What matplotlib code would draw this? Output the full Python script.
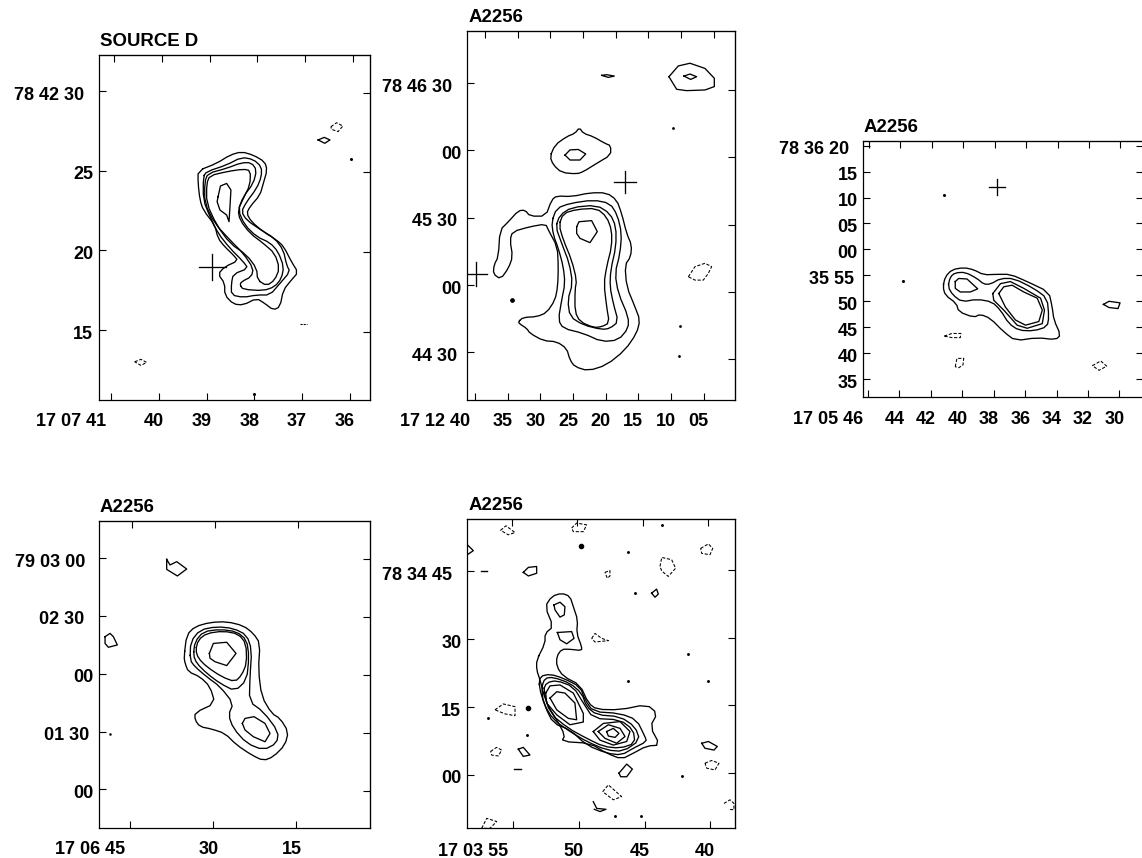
import matplotlib
matplotlib.use('Agg')
import matplotlib.pyplot as plt

plt.rcParams['font.family'] = ['Liberation Sans', 'DejaVu Sans']
plt.rcParams['font.weight'] = 'bold'

# all contours: (RA seconds, Dec arcsec from the reference minute)

# SOURCE D
d_c1 = [(39.18,25.0),(38.79,25.46),(38.51,25.98),(38.27,26.19),(38.02,25.98),(37.78,25.56),(37.73,25.04),(37.81,24.2),(37.88,23.47),(38.09,22.74),(38.16,22.32),(38.06,21.8),(37.81,21.17),(37.53,20.65),(37.38,20.23),(37.22,19.29),(37.08,18.62),(37.22,18.14),(37.39,17.51),(37.46,16.46),(37.6,16.26),(37.78,16.67),(37.95,16.99),(38.23,16.57),(38.44,16.63),(38.62,17.2),(38.62,17.93),(38.76,18.51),(38.62,18.97),(38.34,19.35),(38.44,19.71),(38.62,20.23),(38.76,20.75),(38.83,21.59),(39.07,22.53),(39.14,23.16),(39.18,24.2)]
d_c2 = [(39.07,24.62),(39.0,24.94),(38.58,25.36),(38.27,25.84),(38.02,25.71),(37.85,25.25),(37.85,24.62),(37.95,23.89),(38.16,23.05),(38.27,22.43),(38.16,21.9),(37.88,21.32),(37.57,20.75),(37.39,20.02),(37.32,19.08),(37.25,18.66),(37.46,17.93),(37.67,17.2),(37.95,17.2),(38.23,17.05),(38.48,17.2),(38.48,17.93),(38.44,18.51),(38.13,18.87),(38.23,19.29),(38.51,20.13),(38.76,21.07),(38.93,22.11),(39.07,23.16)]
d_c3 = [(38.3,17.82),(38.23,17.55),(37.81,17.47),(37.57,17.72),(37.43,18.24),(37.38,18.97),(37.5,19.92),(37.67,20.48),(37.95,20.86),(38.2,21.59),(38.34,22.53),(38.23,23.37),(38.02,24.2),(37.95,25.04),(38.06,25.5),(38.27,25.5),(38.58,25.15),(38.97,24.83),(39.04,24.31),(39.04,22.95),(38.83,21.69),(38.51,20.65),(38.23,19.81),(38.02,18.87),(38.06,18.35),(38.27,18.03)]
d_c4 = [(37.93,18.14),(37.74,17.78),(37.57,18.14),(37.47,18.87),(37.57,19.81),(37.81,20.44),(38.09,21.07),(38.3,21.9),(38.34,22.53),(38.23,23.26),(38.09,24.1),(38.08,25.0),(38.23,25.1),(38.58,24.94),(38.93,24.69),(39.0,24.2),(39.0,22.95),(38.79,21.59),(38.51,20.44),(38.16,19.71),(37.95,18.87)]
d_c5 = [(38.76,23.37),(38.71,24.04),(38.58,24.2),(38.49,23.79),(38.51,22.74),(38.53,21.8),(38.58,22.22),(38.72,22.53),(38.78,23.05)]
d_s1 = [(36.66,26.93),(36.53,27.09),(36.41,26.93),(36.52,26.72)]
d_n1 = [(36.39,27.76),(36.27,28.01),(36.14,27.8),(36.24,27.45),(36.38,27.6)]
d_n2 = [(40.51,13.01),(40.38,13.16),(40.26,12.97),(40.38,12.78)]
d_dots = [(35.97,25.75),(38.0,11.0)]
d_cross = [(38.88,18.97)]

# A2256, 17 12 / 78 45
a_c1 = [(33.38,-16.3),(32.61,-14.4),(30.57,-14.1),(29.04,-12.3),(27.76,-6.7),(27.35,-0.7),(27.25,8.2),(27.41,17.1),(28.78,24.5),(29.19,27.2),(31.59,26.0),(34.25,23.8),(34.66,20.1),(34.25,12.6),(34.91,7.4),(36.09,2.7),(37.21,4.9),(37.11,8.9),(36.45,12.6),(36.19,24.5),(34.91,28.2),(33.38,33.1),(32.36,33.4),(31.59,30.7),(29.19,30.7),(28.27,37.9),(27.51,39.7),(25.21,39.4),(22.4,41.1),(19.85,41.1),(18.31,37.9),(17.55,31.9),(16.78,23.0),(16.02,17.8),(16.17,12.6),(17.04,8.9),(16.78,-0.7),(15.51,-9.7),(14.74,-15.6),(15.25,-21.5),(17.04,-29.0),(19.85,-35.6),(22.66,-38.2),(24.7,-36.4),(25.46,-33.4),(25.98,-28.2),(27.51,-25.2),(29.55,-24.8),(31.59,-21.5),(32.1,-19.3),(33.13,-17.4)]
a_c2 = [(28.27,28.2),(27.51,34.2),(25.46,36.4),(21.89,37.9),(19.34,36.4),(18.21,31.2),(17.55,23.0),(17.8,14.1),(18.57,5.2),(18.06,-3.7),(16.53,-14.1),(16.53,-19.3),(18.06,-24.5),(20.61,-25.2),(23.42,-21.5),(26.49,-19.3),(27.25,-15.6),(26.74,-6.7),(26.23,0.7),(26.49,8.2),(27.25,16.3),(28.02,22.3)]
a_c3 = [(27.66,26.0),(27.0,31.2),(25.21,34.6),(21.38,35.6),(19.34,31.9),(18.42,26.0),(18.42,17.1),(19.23,6.7),(19.34,-0.7),(18.83,-8.2),(18.06,-16.3),(19.34,-19.3),(20.61,-19.8),(23.42,-17.8),(25.46,-14.1),(25.82,-6.7),(25.06,0.7),(25.57,9.7),(26.74,18.6)]
a_c4 = [(27.15,26.7),(26.49,31.9),(24.44,33.7),(21.38,34.2),(19.85,30.4),(19.08,24.5),(19.08,17.1),(19.85,8.2),(20.26,0.7),(19.85,-9.7),(19.44,-16.8),(20.61,-18.6),(21.89,-18.9),(23.93,-16.3),(24.7,-11.9),(24.7,-2.2),(24.44,2.2),(25.21,11.1),(26.49,20.1)]
a_c5 = [(24.44,26.0),(24.09,28.2),(22.15,28.7),(21.28,23.8),(22.4,18.9),(23.93,20.8),(24.44,23.0)]
a_top1 = [(28.53,57.2),(27.76,62.4),(25.98,66.1),(24.7,67.6),(24.03,70.1),(23.42,67.6),(21.89,66.1),(20.1,63.1),(19.23,62.1),(19.23,57.9),(21.38,54.2),(23.42,50.5),(24.44,49.5),(26.74,50.1),(28.02,53.5)]
a_top2 = [(26.23,57.9),(25.46,60.2),(24.19,60.4),(23.06,58.4),(23.93,55.7),(25.46,55.7)]
a_tr1 = [(10.3,92.8),(8.87,97.6),(7.08,98.8),(4.78,96.5),(3.35,92.1),(3.35,88.4),(4.78,86.9),(7.59,86.6),(9.12,87.2)]
a_tr2 = [(8.0,93.1),(7.08,94.0),(6.06,92.8),(6.98,91.6)]
a_sm = [(20.61,93.4),(19.85,93.7),(18.67,93.1),(19.59,92.5)]
a_neg = [(7.33,3.7),(6.31,8.2),(4.78,9.7),(3.76,8.2),(4.27,5.2),(5.04,2.2),(6.31,2.2)]
a_dots = [(34.3,-6.7),(9.63,70.1),(8.61,-18.3),(8.71,-31.5)]
a_cross = [(17.04,45.7),(39.92,4.9)]

# A2256, 17 05 / 78 36
b_c1 = [(41.23,-7.2),(41.09,-5.3),(40.66,-3.9),(39.91,-3.5),(39.28,-3.9),(38.64,-4.9),(37.79,-4.8),(36.94,-4.8),(35.87,-6.2),(34.49,-8.2),(34.28,-11.1),(34.17,-13.6),(33.74,-16.5),(34.06,-17.4),(35.23,-17.0),(36.62,-17.6),(37.36,-15.9),(38.21,-13.3),(38.85,-12.5),(39.28,-13.1),(40.23,-12.0),(40.38,-10.4),(41.09,-8.8)]
b_c2 = [(40.91,-7.2),(40.77,-5.3),(40.45,-4.5),(39.81,-4.4),(39.06,-5.6),(38.64,-6.7),(38.21,-6.7),(37.57,-5.6),(36.72,-5.6),(35.45,-7.5),(34.6,-9.4),(34.49,-13.0),(34.6,-14.9),(35.45,-15.7),(36.4,-15.6),(37.04,-14.3),(37.57,-11.7),(38.11,-10.1),(39.06,-9.6),(40.02,-10.1),(40.6,-8.8)]
b_c3 = [(38.06,-8.5),(37.57,-6.6),(36.94,-6.2),(36.09,-7.5),(35.02,-9.4),(34.77,-11.7),(34.91,-14.3),(35.87,-15.2),(36.51,-14.6),(37.36,-11.7),(38.0,-9.8)]
b_c4 = [(37.68,-8.5),(37.36,-7.2),(36.83,-6.9),(36.09,-8.2),(35.23,-9.4),(34.91,-11.7),(35.13,-13.9),(35.98,-14.6),(36.62,-13.6),(37.26,-11.1)]
b_peak = [(40.45,-6.2),(40.23,-5.6),(39.7,-5.7),(39.02,-7.6),(39.49,-8.2),(40.13,-8.2),(40.45,-7.5)]
b_s1 = [(31.02,-10.6),(30.66,-10.0),(29.96,-10.3),(30.09,-11.4),(30.66,-11.2)]
b_n1 = [(41.15,-16.7),(40.66,-16.2),(40.09,-16.2),(40.13,-17.0),(40.66,-17.0)]
b_n2 = [(40.45,-22.6),(40.34,-21.0),(39.91,-21.0),(39.96,-22.3),(40.23,-22.8)]
b_n3 = [(31.72,-22.4),(31.19,-21.5),(30.81,-22.5),(31.3,-23.3)]
b_dots = [(41.19,10.5),(43.79,-6.0)]
b_cross = [(37.79,12.0)]

# A2256, 17 06 / 79 02
e_c1 = [(35.29,8.8),(34.81,20.1),(33.31,24.4),(30.6,26.6),(27.59,27.0),(24.59,24.9),(22.78,20.9),(21.58,15.7),(21.88,1.9),(21.28,-11.9),(19.48,-20.6),(17.97,-23.2),(16.47,-30.1),(17.07,-37.0),(19.18,-43.1),(20.98,-45.1),(23.08,-42.2),(25.79,-37.0),(27.9,-31.0),(30.3,-28.7),(32.41,-27.5),(33.31,-24.0),(33.31,-20.2),(29.7,-15.4),(30.6,-6.7),(32.41,-1.6),(34.51,1.0),(35.11,5.4)]
e_c2 = [(34.21,7.1),(34.09,16.6),(32.41,22.7),(29.4,24.4),(26.39,23.5),(23.99,20.1),(23.08,12.3),(23.39,-1.6),(23.51,-14.5),(20.98,-19.7),(18.27,-30.1),(18.57,-36.1),(20.98,-39.6),(23.99,-36.1),(26.39,-28.4),(27.29,-21.4),(26.39,-15.4),(28.8,-6.7),(31.2,-1.6),(33.31,3.6)]
e_c3 = [(33.61,9.7),(33.31,16.6),(31.8,21.8),(28.8,23.0),(25.79,21.8),(23.99,17.5),(23.57,8.8),(23.99,-3.3),(26.09,-9.0),(28.8,-5.0),(31.2,0.2),(33.01,5.4)]
e_c4 = [(33.19,12.3),(32.71,17.5),(31.2,20.9),(28.2,22.1),(25.49,20.6),(24.11,15.7),(23.99,5.4),(24.89,-0.7),(26.09,-4.2),(28.5,-1.6),(31.2,3.6),(32.71,8.0)]
e_p1 = [(30.72,10.5),(30.0,15.7),(27.59,16.3),(25.91,10.5),(27.59,4.2),(29.7,6.2),(30.6,8.0)]
e_p2 = [(24.77,-25.8),(24.29,-23.2),(22.66,-22.3),(20.68,-25.8),(19.78,-31.0),(20.68,-35.3),(22.78,-32.7),(24.29,-29.2)]
e_s1 = [(38.42,59.3),(37.82,56.4),(36.61,58.1),(34.81,54.3),(36.49,50.7),(38.42,54.1)]
e_s2 = [(49.54,19.2),(48.64,20.9),(48.04,19.2),(47.32,14.9),(48.94,13.7),(49.54,15.7)]
e_dots = [(48.64,-31.5)]

# A2256, 17 03 / 78 34
f_c1 = [(53.23,25.4),(52.59,29.1),(52.59,31.3),(51.96,32.8),(52.59,37.2),(52.08,39.5),(51.32,40.2),(50.69,39.5),(50.43,37.2),(50.1,34.3),(50.18,31.3),(49.8,28.4),(49.8,27.5),(50.69,27.8),(51.32,27.8),(51.7,26.2),(51.7,24.0),(51.2,21.8),(49.92,19.9),(49.29,15.9),(48.65,14.5),(46.87,14.4),(44.84,15.6),(44.02,13.6),(44.58,10.7),(43.82,6.6),(44.84,6.4),(45.86,4.8),(46.75,3.5),(47.89,4.8),(49.16,7.0),(51.32,7.4),(51.07,8.8),(51.7,12.2),(52.34,15.1),(52.72,18.1),(52.97,21.0),(53.23,23.2)]
f_l1 = [(51.91,37.6),(51.45,38.2),(51.07,37.2),(51.12,35.4),(51.45,34.9),(51.83,36.5)]
f_l2 = [(51.65,31.5),(50.56,31.7),(50.38,30.2),(50.94,29.0),(51.45,29.9)]
f_m1 = [(53.05,19.5),(52.97,21.8),(52.21,22.3),(51.2,21.4),(49.92,19.5),(49.54,16.6),(48.91,14.0),(46.87,13.6),(45.6,12.2),(44.97,8.5),(44.84,7.4),(45.86,5.9),(46.75,4.4),(47.89,4.8),(49.42,6.6),(50.69,10.0),(51.96,11.4),(52.59,15.1)]
f_m2 = [(52.85,19.5),(52.59,21.4),(51.96,21.6),(50.69,20.3),(49.8,18.1),(49.42,15.1),(48.65,13.3),(46.87,12.9),(45.73,10.7),(45.35,7.7),(46.62,5.2),(47.89,5.5),(49.42,7.4),(50.69,9.6),(51.96,12.2),(52.72,15.9)]
f_m3 = [(52.72,18.8),(52.47,20.4),(51.7,20.9),(50.43,19.5),(49.67,15.9),(48.91,12.5),(46.87,12.2),(45.86,10.0),(45.73,7.0),(46.87,5.9),(48.14,6.3),(49.42,8.1),(50.81,10.3),(52.21,13.6)]
f_m4 = [(52.54,18.1),(52.21,19.7),(51.45,19.9),(50.43,18.1),(49.67,13.6),(49.67,11.7),(50.69,11.1),(51.7,13.3),(52.47,15.9)]
f_m5 = [(52.21,17.0),(51.7,18.4),(51.07,18.1),(50.31,15.9),(50.18,12.2),(50.81,12.5),(51.7,14.4)]
f_r1 = [(48.91,9.6),(48.14,11.4),(46.87,11.8),(46.11,9.6),(46.36,7.4),(47.38,6.6),(48.4,7.7)]
f_r2 = [(48.53,9.6),(47.76,11.1),(46.87,10.3),(46.49,8.5),(47.13,7.0),(48.02,8.1)]
f_r3 = [(47.89,9.6),(47.38,10.3),(46.95,9.2),(47.25,8.3),(47.76,8.6)]
f_s1 = [(54.25,44.8),(53.86,45.9),(53.23,46.1),(53.23,44.6),(53.86,44.0)]
f_s2 = [(44.46,40.2),(44.08,41.1),(43.95,40.0),(44.2,39.3)]
f_s3 = [(54.63,5.7),(54.25,6.1),(53.74,4.4),(54.25,4.1)]
f_s4 = [(40.64,7.0),(40.13,7.4),(39.45,6.3),(39.7,5.5),(40.39,5.9)]
f_s5 = [(46.95,0.4),(46.36,2.4),(45.93,1.3),(46.36,-0.4),(46.82,-0.4)]
f_n1 = [(55.98,54.1),(55.57,55.1),(54.88,53.6),(55.39,53.1)]
f_n2 = [(50.56,54.6),(50.18,55.7),(49.42,55.3),(49.67,53.8),(50.43,53.8)]
f_n3 = [(40.72,50.1),(40.13,51.1),(39.8,50.1),(40.01,48.7),(40.64,49.0)]
f_n4 = [(43.82,46.1),(43.69,48.1),(42.93,47.6),(42.63,45.7),(43.19,43.9),(43.69,45.1)]
f_n5 = [(48.02,44.8),(47.64,45.2),(47.64,44.0),(47.84,43.5)]
f_n6 = [(49.03,30.2),(48.78,31.3),(48.27,30.2),(47.76,29.7),(48.78,29.4)]
f_n7 = [(56.41,14.4),(55.77,15.7),(54.88,15.1),(54.88,13.1),(55.64,13.5)]
f_n8 = [(56.74,5.2),(56.28,6.1),(55.9,5.5),(56.15,4.2),(56.66,4.4)]
f_n9 = [(40.39,2.6),(39.88,3.2),(39.32,2.6),(39.63,1.1),(40.26,1.5)]
f_n10 = [(48.19,-3.7),(47.76,-2.2),(46.75,-4.8),(47.38,-5.5)]
f_n11 = [(57.42,-11.8),(57.04,-9.6),(56.28,-10.3),(56.79,-11.8)]
f_open1 = [(58.52,50.9),(58.06,49.6),(58.52,48.7)]
f_open2 = [(48.91,-5.9),(48.65,-7.4),(47.94,-7.6),(48.4,-8.1),(48.83,-7.6)]
f_open3 = [(38.94,-6.3),(38.48,-5.5),(38.18,-6.3),(38.18,-7.7),(38.61,-7.6)]
f_dots = [(46.24,49.2),(43.69,55.2),(45.73,40.3),(41.66,26.8),(40.13,20.8),(46.29,20.8),(53.97,8.8),(42.17,-0.2),(47.25,-9.0),(45.27,-9.0),(56.97,12.5)]
f_big = [(49.87,50.7),(53.92,14.9)]
f_dash = [[(57.5,45.0),(57.05,45.0)],[(54.95,1.3),(54.45,1.3)]]

# ticks and labels
d_ra = [41,40,39,38,37,36]
d_ra_lab = ['17 07 41','40','39','38','37','36']
d_dec = [30,25,20,15]
d_dec_lab = ['78 42 30','25','20','15']
a_ra = [40,35,30,25,20,15,10,5]
a_ra_lab = ['17 12 40','35','30','25','20','15','10','05']
a_dec = [90,60,30,0,-30]
a_dec_lab = ['78 46 30','00','45 30','00','44 30']
b_ra = [46,44,42,40,38,36,34,32,30]
b_ra_lab = ['17 05 46','44','42','40','38','36','34','32','30']
b_dec = [20,15,10,5,0,-5,-10,-15,-20,-25]
b_dec_lab = ['78 36 20','15','10','05','00','35 55','50','45','40','35']
e_ra = [45,30,15]
e_ra_lab = ['17 06 45','30','15']
e_dec = [60,30,0,-30,-60]
e_dec_lab = ['79 03 00','02 30','00','01 30','00']
f_ra = [55,50,45,40]
f_ra_lab = ['17 03 55','50','45','40']
f_dec = [45,30,15,0]
f_dec_lab = ['78 34 45','30','15','00']

W, H = 1142, 858
lw = 0.95
fig = plt.figure(figsize=(W/100, H/100), dpi=100, facecolor='white')


def chaikin(xs, ys):
    # rounds the corners of a closed outline for drawing, the listed values stay as read
    nx, ny = [], []
    for i in range(len(xs)-1):
        nx += [0.75*xs[i]+0.25*xs[i+1], 0.25*xs[i]+0.75*xs[i+1]]
        ny += [0.75*ys[i]+0.25*ys[i+1], 0.25*ys[i]+0.75*ys[i+1]]
    return nx+nx[:1], ny+ny[:1]


def closed(ax, pts, neg=False):
    xs = [p[0] for p in pts] + [pts[0][0]]
    ys = [p[1] for p in pts] + [pts[0][1]]
    if len(pts) >= 12:
        xs, ys = chaikin(xs, ys)
    ax.plot(xs, ys, color='k', lw=lw*0.8 if neg else lw, ls=(0, (3, 1.6)) if neg else '-')


def panel(box, xlim, ylim, title, ra, ra_lab, dec, dec_lab, gaps, top_shift, right_shift, cross, lab_y=22):
    l, t, r, b = box
    ax = fig.add_axes([l/W, 1-b/H, (r-l)/W, (b-t)/H])
    ax.set_xlim(*xlim)
    ax.set_ylim(*ylim)
    for s in ax.spines.values():
        s.set_linewidth(0.9)
    ax.set_xticks(ra, [''] * len(ra))
    ax.set_yticks(dec, [''] * len(dec))
    ax.tick_params(direction='in', length=4.7, width=0.8)
    top = ax.secondary_xaxis('top')
    top.set_xticks([v + top_shift for v in ra], [''] * len(ra))
    top.tick_params(direction='in', length=4.7, width=0.8)
    right = ax.secondary_yaxis('right')
    right.set_yticks([v + right_shift for v in dec], [''] * len(dec))
    right.tick_params(direction='in', length=4.7, width=0.8)
    ax.annotate(title, xy=(0, 1), xycoords='axes fraction', xytext=(1, 13.5), textcoords='offset pixels',
                fontsize=13.4, ha='left', va='center')
    for i, (v, s) in enumerate(zip(ra, ra_lab)):
        ax.annotate(s, xy=(v, 0), xycoords=ax.get_xaxis_transform(), xytext=(-5, -lab_y),
                    textcoords='offset pixels', fontsize=13, ha='right' if i == 0 else 'center', va='center')
    for v, s, g in zip(dec, dec_lab, gaps):
        ax.annotate(s, xy=(0, v), xycoords=ax.get_yaxis_transform(), xytext=(-g, -4),
                    textcoords='offset pixels', fontsize=13, ha='right', va='center')
    for x, y, hx, hy in cross:
        ax.plot([x-hx, x+hx], [y, y], color='k', lw=lw)
        ax.plot([x, x], [y-hy, y+hy], color='k', lw=lw)
    return ax


# SOURCE D
ax1 = panel((99, 55, 370, 400), (41.26, 35.57), (10.61, 32.26), 'SOURCE D', d_ra, d_ra_lab, d_dec, d_dec_lab,
            [15, 6, 6, 6], -0.063, -0.1, [(d_cross[0][0], d_cross[0][1], 0.28, 0.8)])
for c in [d_c1, d_c2, d_c3, d_c4, d_c5, d_s1]:
    closed(ax1, c)
for c in [d_n1, d_n2]:
    closed(ax1, c, True)
ax1.plot([37.03, 36.9], [15.38, 15.38], color='k', lw=lw*0.8, ls=(0, (2, 1)))
ax1.plot(*zip(*d_dots), ls='none', marker='o', ms=1.2, color='k')

# A2256 top middle
ax2 = panel((467.3, 30.7, 735, 400), (41.2, 0.18), (-51.2, 113.3), 'A2256', a_ra, a_ra_lab, a_dec, a_dec_lab,
            [15, 6, 10, 6, 10], -1.53, -3.1,
            [(a_cross[0][0], a_cross[0][1], 1.69, 4.9), (a_cross[1][0], a_cross[1][1], 1.69, 5.2)])
for c in [a_c1, a_c2, a_c3, a_c4, a_c5, a_top1, a_top2, a_tr1, a_tr2, a_sm]:
    closed(ax2, c)
closed(ax2, a_neg, True)
ax2.plot(*zip(*a_dots[:1]), ls='none', marker='o', ms=2.4, color='k')
ax2.plot(*zip(*a_dots[1:]), ls='none', marker='o', ms=1.0, color='k')

# A2256 top right
ax3 = panel((862.7, 140.7, 1143, 397.3), (46.34, 28.5), (-28.5, 20.95), 'A2256', b_ra, b_ra_lab, b_dec, b_dec_lab,
            [14, 5, 5, 5, 5, 9, 5, 5, 5, 5], -0.06, 0, [(b_cross[0][0], b_cross[0][1], 0.51, 1.54)])
for c in [b_c1, b_c2, b_c3, b_c4, b_peak, b_s1]:
    closed(ax3, c)
for c in [b_n1, b_n2, b_n3]:
    closed(ax3, c, True)
ax3.plot(*zip(*b_dots), ls='none', marker='o', ms=1.2, color='k')

# A2256 bottom left
ax4 = panel((99, 521, 370, 828.3), (50.63, 1.74), (-80.2, 79.2), 'A2256', e_ra, e_ra_lab, e_dec, e_dec_lab,
            [14, 15, 6, 10, 6], -0.24, -0.7, [], lab_y=21)
for c in [e_c1, e_c2, e_c3, e_c4, e_p1, e_p2, e_s1, e_s2]:
    closed(ax4, c)
ax4.plot(*zip(*e_dots), ls='none', marker='o', ms=0.8, color='k')

# A2256 bottom middle
ax5 = panel((467.3, 519, 735, 828.3), (58.52, 38.1), (-11.8, 56.6), 'A2256', f_ra, f_ra_lab, f_dec, f_dec_lab,
            [15, 6, 6, 6], 0.13, 0.37, [], lab_y=23)
for c in [f_c1, f_l1, f_l2, f_m1, f_m2, f_m3, f_m4, f_m5, f_r1, f_r2, f_r3, f_s1, f_s2, f_s3, f_s4, f_s5]:
    closed(ax5, c)
for c in [f_n1, f_n2, f_n3, f_n4, f_n5, f_n6, f_n7, f_n8, f_n9, f_n10, f_n11]:
    closed(ax5, c, True)
for c in [f_open1, f_open2]:
    ax5.plot(*zip(*c), color='k', lw=lw)
ax5.plot(*zip(*f_open3), color='k', lw=lw*0.8, ls=(0, (3, 1.6)))
ax5.plot(*zip(*f_dots), ls='none', marker='o', ms=1.1, color='k')
ax5.plot(*zip(*f_big), ls='none', marker='o', ms=3.0, color='k')
for c in f_dash:
    ax5.plot(*zip(*c), color='k', lw=1.0)

fig.savefig('out.png', dpi=100, facecolor='white')
